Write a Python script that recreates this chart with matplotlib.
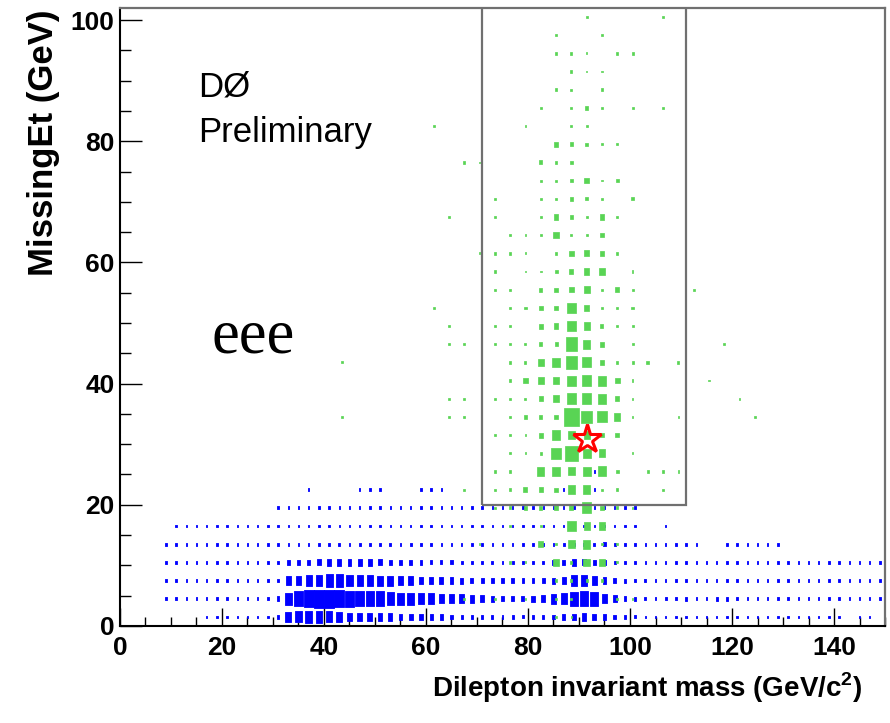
import matplotlib.pyplot as plt
from matplotlib.patches import Rectangle
from matplotlib.collections import PatchCollection

plt.rcParams['font.family'] = ['Liberation Sans', 'DejaVu Sans']
plt.rcParams['mathtext.fontset'] = 'custom'
plt.rcParams['mathtext.rm'] = 'Liberation Sans'
plt.rcParams['mathtext.bf'] = 'Liberation Sans:bold'

# Fondo (azul): bins de 2 GeV en masa x 3 GeV en MET, contenido en % del bin maximo
blue_met = [1.5, 4.5, 7.5, 10.5, 13.5, 16.5, 19.5, 22.5, 25.5]
blue_first_mass = [17, 9, 9, 9, 9, 11, 31, 37, 93]

blue_row_01 = [15, 15, 15, 15, 15, 15, 15,
               22, 55, 60, 65, 65, 60, 55, 48, 48, 48, 40, 40, 37, 37, 34, 30, 30, 26,
               22, 22, 20, 20, 18, 18, 16, 18, 20, 26, 30, 37, 40, 37, 33, 26, 20, 16,
               15, 15, 15, 15, 15, 15, 15, 15, 15, 15, 15, 15, 15, 15, 15, 15, 15, 15, 15, 15,
               0, 15, 15]
blue_row_04 = [15, 15, 15, 15, 15, 15, 15, 15, 15, 15, 15,
               25, 65, 85, 95, 100, 100, 95, 90, 85, 80, 80, 72, 66, 66, 60, 58, 52, 52, 48, 45,
               38, 34, 30, 30, 30, 33, 40, 55, 62, 78, 82, 75, 52, 38, 26, 20, 18, 16, 16, 16,
               20, 15, 17, 20, 20,
               15, 15, 15, 15, 15, 15, 15, 15, 15, 15, 15, 15, 15, 15, 15]
blue_row_07 = [15, 15, 15, 15, 15, 15, 15, 15, 15, 15, 15,
               20, 45, 52, 60, 65, 70, 70, 65, 62, 62, 55, 55, 50, 48, 42, 40, 37, 37, 33, 30,
               30, 30, 27, 27, 27, 27, 30, 33, 42, 58, 58, 52, 38, 26, 22, 17, 16,
               15, 15, 15, 15, 15, 15, 15, 15, 15, 15, 15, 15, 15, 15, 15, 15, 15, 15, 15, 15,
               15, 15, 15]
blue_row_10 = [15, 15, 15, 15, 15, 15, 15, 15, 15, 15, 15,
               17, 25, 28, 30, 33, 35, 37, 37, 37, 35, 33, 30, 30, 27, 27, 22, 22, 22, 20, 20,
               20, 20, 17, 20, 17, 17, 17, 25, 30, 40, 32, 30, 25, 20, 16,
               15, 15, 15, 15, 15, 15, 15, 15, 15, 15, 15, 15, 15, 15, 15, 15, 15, 15, 15, 15,
               15, 15, 15, 15, 15]
blue_row_13 = [15, 15, 15, 15, 15, 15, 15, 15, 15, 15, 15, 15, 15, 15, 15, 15,
               17, 17, 17, 17, 17, 17, 17, 17, 17, 17,
               15, 15, 15, 15, 15, 15, 15, 15, 15, 15, 15, 15, 15,
               17, 18, 17, 18, 22, 16,
               15, 15, 15, 15, 15, 15, 15, 15,
               0, 0,
               15, 15, 15, 15, 15, 15]
blue_row_16 = [15, 15, 15, 15, 15, 15, 15, 15, 15, 15, 15, 15, 15, 15, 15, 15,
               15, 15, 15, 15, 15, 15, 15, 15, 15, 15, 15, 15, 15, 15, 15, 15,
               15, 15, 15, 15, 15, 15, 15, 15, 15, 15, 15, 15, 15, 15,
               0, 0, 15]
blue_row_19 = [15, 15, 15, 15, 15, 15, 15, 15, 15, 15, 15, 15, 15, 15, 15, 15, 15, 15,
               15, 15, 15, 15, 15, 15, 15, 15, 15, 15, 15, 15, 15, 15, 15, 15, 15, 15]
blue_row_22 = [15, 0, 0, 0, 0, 15, 15, 15, 0, 0, 0, 15, 15, 15,
               0, 0, 0, 0, 0, 0, 0, 0, 0, 0, 0, 15, 0, 0, 15]
blue_row_25 = [15]

# Senal (verde): bins de 3 GeV x 3 GeV, contenido en % del bin maximo
green_mass = [61.5, 64.5, 67.5, 70.5, 73.5, 76.5, 79.5, 82.5, 85.5, 88.5, 91.5,
              94.5, 97.5, 100.5, 103.5, 106.5, 109.5, 112.5, 115.5, 118.5, 121.5, 124.5]
green_met_high = [100.5, 97.5, 94.5, 91.5, 88.5, 85.5, 82.5, 79.5, 76.5, 73.5, 70.5,
                  67.5, 64.5, 61.5, 58.5]
green_high = [
    [0, 0, 0, 0, 0, 0, 0, 0, 0, 0, 13, 0, 0, 0, 0, 13, 0, 0, 0, 0, 0, 0],
    [0, 0, 0, 0, 0, 0, 0, 0, 13, 0, 0, 13, 0, 0, 0, 0, 0, 0, 0, 0, 0, 0],
    [0, 0, 0, 0, 0, 0, 0, 0, 13, 13, 10, 0, 13, 13, 0, 0, 0, 0, 0, 0, 0, 0],
    [0, 0, 0, 0, 0, 0, 0, 0, 0, 12, 9, 9, 0, 0, 0, 0, 0, 0, 0, 0, 0, 0],
    [0, 0, 0, 0, 0, 0, 0, 0, 15, 13, 0, 15, 0, 0, 0, 0, 0, 0, 0, 0, 0, 0],
    [0, 0, 0, 0, 0, 0, 0, 13, 0, 13, 20, 12, 0, 13, 0, 13, 0, 0, 0, 0, 0, 0],
    [12, 0, 0, 0, 0, 0, 10, 0, 0, 15, 15, 0, 0, 0, 0, 0, 0, 0, 0, 0, 0, 0],
    [0, 0, 0, 0, 0, 0, 0, 0, 25, 24, 17, 12, 13, 0, 0, 0, 0, 0, 0, 0, 0, 0],
    [0, 0, 13, 10, 0, 0, 0, 22, 12, 20, 0, 0, 0, 0, 0, 0, 0, 0, 0, 0, 0, 0],
    [0, 0, 0, 0, 0, 0, 0, 12, 12, 20, 30, 8, 20, 0, 0, 0, 0, 0, 0, 0, 0, 0],
    [0, 0, 0, 0, 13, 0, 0, 13, 13, 22, 18, 10, 0, 18, 0, 0, 0, 0, 0, 0, 0, 0],
    [0, 12, 0, 0, 13, 0, 0, 13, 30, 20, 13, 28, 15, 0, 0, 0, 0, 0, 0, 0, 0, 0],
    [0, 0, 0, 0, 0, 13, 12, 13, 36, 13, 12, 22, 0, 0, 0, 0, 0, 0, 0, 0, 0, 0],
    [0, 0, 0, 12, 13, 13, 12, 0, 14, 30, 32, 28, 13, 0, 0, 0, 0, 0, 0, 0, 0, 0],
    [0, 0, 0, 0, 12, 0, 10, 10, 20, 28, 36, 40, 0, 12, 0, 0, 0, 0, 0, 0, 0, 0],
]
green_met_mid = [55.5, 52.5, 49.5, 46.5, 43.5, 40.5, 37.5, 34.5]
green_mid = [
    [0, 0, 0, 0, 13, 13, 0, 22, 22, 30, 40, 13, 25, 13, 0, 0, 0, 12, 0, 0, 0, 0],
    [12, 0, 0, 0, 0, 13, 15, 25, 22, 55, 32, 13, 13, 15, 0, 0, 0, 0, 0, 0, 0, 0],
    [0, 13, 0, 0, 13, 13, 0, 28, 32, 58, 40, 20, 13, 13, 0, 0, 0, 0, 0, 0, 0, 0],
    [0, 13, 13, 0, 13, 13, 13, 20, 20, 75, 48, 25, 0, 13, 0, 0, 0, 0, 0, 13, 0, 0],
    [0, 0, 0, 0, 0, 13, 13, 38, 48, 70, 55, 28, 13, 13, 20, 0, 13, 0, 0, 0, 0, 0],
    [0, 0, 0, 0, 0, 13, 30, 38, 40, 55, 58, 55, 30, 12, 0, 0, 0, 0, 10, 0, 0, 0],
    [0, 12, 12, 0, 13, 13, 13, 28, 38, 58, 58, 55, 28, 12, 0, 0, 0, 0, 0, 0, 10, 0],
    [0, 12, 12, 0, 0, 13, 25, 20, 25, 100, 68, 60, 40, 12, 0, 0, 12, 0, 0, 0, 0, 10],
]
green_met_low = [31.5, 28.5, 25.5, 22.5, 19.5, 16.5, 13.5, 10.5, 7.5, 4.5, 1.5]
green_low = [
    [0, 0, 0, 0, 12, 12, 12, 28, 55, 47, 40, 22, 25, 0, 0, 0, 0, 0, 0, 0, 0, 0],
    [0, 0, 0, 0, 0, 12, 12, 15, 60, 82, 52, 43, 0, 12, 0, 0, 0, 0, 0, 0, 0, 0],
    [0, 0, 0, 0, 12, 12, 0, 48, 48, 44, 52, 55, 20, 0, 12, 12, 12, 0, 0, 0, 0, 0],
    [0, 0, 12, 0, 12, 14, 26, 26, 22, 50, 50, 12, 15, 0, 0, 12, 0, 0, 0, 0, 0, 0],
    [0, 0, 0, 0, 12, 15, 20, 20, 26, 26, 62, 25, 15, 12, 0, 0, 0, 0, 0, 0, 0, 0],
    [0, 0, 0, 0, 0, 12, 0, 12, 0, 60, 40, 45, 0, 0, 0, 0, 0, 0, 0, 0, 0, 0],
    [0, 0, 0, 12, 0, 0, 0, 30, 12, 44, 48, 12, 12, 0, 0, 0, 0, 0, 0, 0, 0, 0],
    [0, 0, 0, 0, 0, 13, 12, 0, 40, 13, 42, 38, 12, 0, 0, 0, 0, 0, 0, 0, 0, 0],
    [0, 0, 0, 0, 0, 0, 0, 0, 15, 15, 15, 12, 0, 0, 0, 0, 0, 0, 0, 0, 0, 0],
    [0, 0, 12, 0, 12, 0, 12, 0, 12, 12, 0, 0, 12, 12, 0, 0, 0, 0, 0, 0, 0, 0],
    [0, 0, 0, 0, 0, 0, 0, 0, 10, 10, 0, 0, 0, 0, 0, 0, 0, 0, 0, 0, 0, 0],
]
# dos eventos aislados a la izquierda
green_extra_mass = [43.5, 43.5]
green_extra_met = [43.5, 34.5]
green_extra = [12, 12]

# candidato observado y ventana de seleccion
event_mass = 91.6
event_met = 30.9
window_mass = (71, 111)
window_met_min = 20

xtick_values = [0, 20, 40, 60, 80, 100, 120, 140]
ytick_values = [0, 20, 40, 60, 80, 100]

BLUE = '#0000ff'
GREEN = '#59d454'

fig = plt.figure(figsize=(8.9, 7.23), dpi=100)
ax = fig.add_axes([0.1348, 0.1342, 0.8596, 0.8548])

# cajas azules
blue_rows = [blue_row_01, blue_row_04, blue_row_07, blue_row_10, blue_row_13,
             blue_row_16, blue_row_19, blue_row_22, blue_row_25]
blue_boxes = []
for met, first, row in zip(blue_met, blue_first_mass, blue_rows):
    for i, c in enumerate(row):
        if c > 0:
            f = c / 100
            x = first + 2 * i
            blue_boxes.append(Rectangle((x - f, met - 1.5 * f), 2 * f, 3 * f))
ax.add_collection(PatchCollection(blue_boxes, facecolor=BLUE, edgecolor=BLUE,
                                  linewidth=0.6, zorder=2))

# cajas verdes
green_boxes = []
green_met = green_met_high + green_met_mid + green_met_low
green_rows = green_high + green_mid + green_low
for met, row in zip(green_met, green_rows):
    for mass, c in zip(green_mass, row):
        if c > 0:
            f = c / 100
            green_boxes.append(Rectangle((mass - 1.5 * f, met - 1.5 * f), 3 * f, 3 * f))
for mass, met, c in zip(green_extra_mass, green_extra_met, green_extra):
    f = c / 100
    green_boxes.append(Rectangle((mass - 1.5 * f, met - 1.5 * f), 3 * f, 3 * f))
ax.add_collection(PatchCollection(green_boxes, facecolor=GREEN, edgecolor=GREEN,
                                  linewidth=0.5, zorder=3))

# ventana de seleccion
ax.add_patch(Rectangle((window_mass[0], window_met_min), window_mass[1] - window_mass[0], 200,
                       fill=False, edgecolor='#707070', linewidth=1.6, zorder=4))

# estrella del candidato
ax.plot(event_mass, event_met, marker='*', markersize=21, markerfacecolor='none',
        markeredgecolor='red', markeredgewidth=2.2, zorder=5)

ax.text(15.3, 87.4, 'DØ', fontsize=25, ha='left', va='baseline')
ax.text(15.3, 79.8, 'Preliminary', fontsize=25, ha='left', va='baseline')
ax.text(18.0, 45.1, 'eee', fontsize=45, family=['Liberation Serif', 'DejaVu Serif'],
        ha='left', va='baseline')

ax.set_xlim(0, 150)
ax.set_ylim(0, 102)

ax.set_xticks(xtick_values)
ax.set_xticks([v for v in range(0, 151, 5) if v % 20], minor=True)
ax.set_yticks(ytick_values)
ax.set_yticks([v for v in range(0, 101, 5) if v % 20], minor=True)
ax.set_xticklabels([str(v) for v in xtick_values], fontsize=19, fontweight='bold')
ax.set_yticklabels([str(v) for v in ytick_values], fontsize=19, fontweight='bold')
ax.tick_params(axis='x', which='major', direction='in', length=13, width=1, pad=7)
ax.tick_params(axis='x', which='minor', direction='in', length=6.5, width=1)
ax.tick_params(axis='y', which='major', direction='in', length=16, width=1, pad=4)
ax.tick_params(axis='y', which='minor', direction='in', length=8, width=1)

for side in ['left', 'bottom']:
    ax.spines[side].set_linewidth(1.5)
    ax.spines[side].set_color('black')
for side in ['top', 'right']:
    ax.spines[side].set_linewidth(1.6)
    ax.spines[side].set_color('#707070')

ax.set_xlabel(r'Dilepton invariant mass (GeV/c$^{\mathbf{2}}$)', fontsize=20,
              fontweight='bold', loc='right')
ax.xaxis.set_label_coords(0.97, -0.072)
ax.set_ylabel('MissingEt (GeV)', fontsize=25, fontweight='bold', loc='top')
ax.yaxis.set_label_coords(-0.078, 0.997)

fig.savefig('out.png', dpi=100)
